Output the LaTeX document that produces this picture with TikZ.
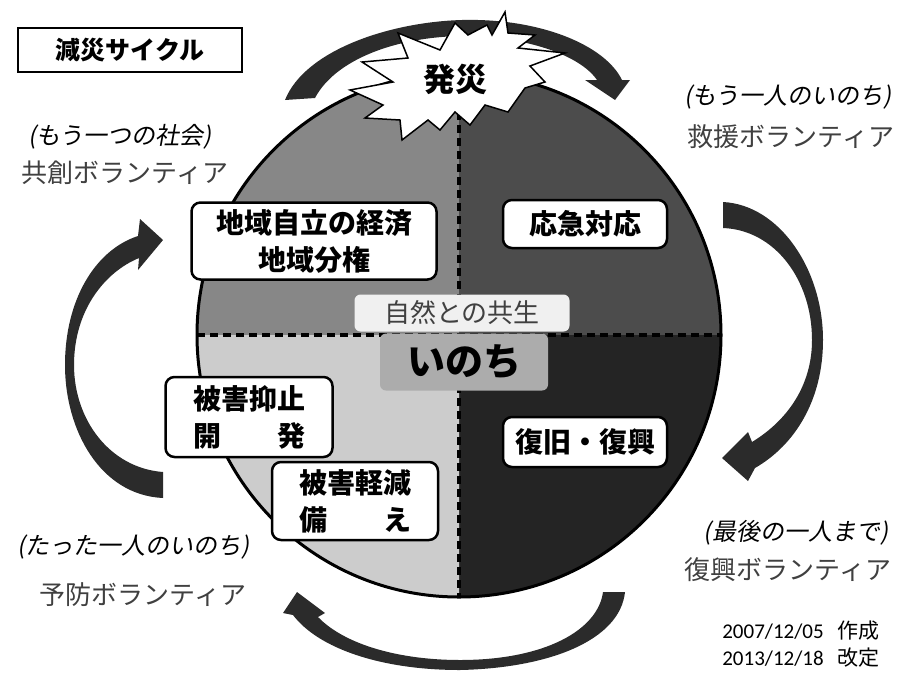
\documentclass[tikz,border=0pt]{standalone}
\usepackage{fontspec}
\setmainfont{Noto Sans CJK JP}
\newfontfamily\slantjp[FakeSlant=0.18]{Noto Sans CJK JP}
\newfontfamily\datefont{Carlito}
\definecolor{quadA}{gray}{0.53}
\definecolor{quadB}{gray}{0.30}
\definecolor{quadC}{gray}{0.14}
\definecolor{quadD}{gray}{0.80}
\definecolor{arrowgray}{gray}{0.17}
\definecolor{voltext}{gray}{0.25}
\tikzset{
	stage/.style={
		draw,
		line width = 2.5pt,
		rounded corners = 9pt,
		fill = white,
		align = center,
		inner sep = 0pt,
		font = \bfseries\fontsize{28}{37}\selectfont
	},
	volunteer/.style={
		text = voltext,
		inner sep = 0pt,
		font = \fontsize{26}{30}\selectfont
	},
	motto/.style={
		inner sep = 0pt,
		font = \slantjp\fontsize{24}{28}\selectfont
	},
	divider/.style={
		line width = 3.5pt,
		dash pattern = on 8pt off 5pt
	},
	cyclearrow/.style={
		fill = arrowgray
	},
}

\begin{document}
\begin{tikzpicture}[x=1pt, y=-1pt]
    \useasboundingbox (0,0) rectangle (902,673);
    \foreach \a/\c in {180/quadA, 270/quadB, 0/quadC, 90/quadD}{
      \fill[\c] (459,335) -- ++(\a:262) arc[start angle=\a, delta angle=90, radius=262] -- cycle;
    }
    \draw[divider] (459,73) -- (459,597);
    \draw[divider] (197,335) -- (722,335);
    \draw[line width=3pt] (459,335) circle[radius=262];

    \fill[cyclearrow] (285,100) .. controls (305,50) and (390,22) .. (462,20)
      .. controls (540,18) and (605,45) .. (622,80) -- (630,80) -- (615,100) -- (585,80) -- (597,80)
      .. controls (580,55) and (525,36) .. (462,36) .. controls (395,37) and (335,60) .. (315,98) -- cycle;
    \fill[cyclearrow] (723,202) .. controls (780,205) and (823,270) .. (823,340)
      .. controls (823,400) and (795,445) .. (755,468) -- (748,481) -- (722,458) -- (748,432) -- (752,442)
      .. controls (788,420) and (812,385) .. (812,340) .. controls (812,280) and (775,230) .. (723,228) -- cycle;
    \fill[cyclearrow] (625,592) .. controls (620,640) and (550,668) .. (460,670)
      .. controls (380,670) and (318,648) .. (293,615) -- (283,613) -- (297,592) -- (325,613) -- (318,617)
      .. controls (345,645) and (400,660) .. (460,660) .. controls (545,660) and (598,630) .. (603,592) -- cycle;
    \fill[cyclearrow] (163,498) .. controls (100,495) and (65,430) .. (65,365)
      .. controls (65,300) and (95,250) .. (138,236) -- (140,219) -- (163,240) -- (138,270) -- (139,258)
      .. controls (105,272) and (74,310) .. (74,365) .. controls (74,420) and (110,468) .. (163,472) -- cycle;

    \draw[line width=1.5pt, fill=white, line join=miter] (505,12) -- (508,33) -- (535,35) -- (518,48) -- (565,53)
      -- (530,66) -- (545,82) -- (525,88) -- (508,112) -- (485,105) -- (470,125) -- (455,112)
      -- (440,130) -- (428,120) -- (402,140) -- (400,120) -- (365,118) -- (383,105) -- (350,90)
      -- (393,82) -- (362,62) -- (408,58) -- (398,33) -- (440,50) -- (455,23) -- (468,35)
      -- (487,25) -- (492,35) -- cycle;
    \node[font=\bfseries\fontsize{32}{36}\selectfont] (hassai) at (455,79) {発災};

    \node[draw, line width=1.5pt, minimum width=224pt, minimum height=44pt,
      font=\bfseries\fontsize{25}{30}\selectfont] (title) at (130,50) {減災サイクル};

    \node[stage, minimum width=245pt, minimum height=77pt] (jiritsu) at (314,241) {地域自立の経済\\地域分権};
    \node[stage, minimum width=164pt, minimum height=48pt] (oukyu) at (585,224) {応急対応};
    \node[stage, minimum width=164pt, minimum height=50pt] (fukkyu) at (585,442) {復旧・復興};
    \node[stage, minimum width=167pt, minimum height=80pt] (yokushi) at (249,417) {被害抑止\\開　　発};
    \node[stage, minimum width=166pt, minimum height=78pt] (keigen) at (355,501) {被害軽減\\備　　え};

    \node[fill=gray!12, rounded corners=6pt, minimum width=215pt, minimum height=37pt, inner sep=0pt,
      text=voltext, font=\fontsize{26}{30}\selectfont] (kyosei) at (462,313) {自然との共生};
    \node[fill=gray!65, rounded corners=6pt, minimum width=168pt, minimum height=57pt, inner sep=0pt,
      font=\bfseries\fontsize{38}{42}\selectfont] (inochi) at (464,362) {いのち};

    \node[motto] (kyososub) at (120,137) {(もう一つの社会)};
    \node[volunteer] (kyoso) at (125,173) {共創ボランティア};
    \node[motto] (kyuensub) at (788,97) {(もう一人のいのち)};
    \node[volunteer] (kyuen) at (791,137) {救援ボランティア};
    \node[motto] (yobousub) at (134,547) {(たった一人のいのち)};
    \node[volunteer] (yobou) at (143,595) {予防ボランティア};
    \node[motto] (fukkousub) at (796,533) {(最後の一人まで)};
    \node[volunteer] (fukkou) at (788,570) {復興ボランティア};

    \node[inner sep=0pt, font=\fontsize{21}{25}\selectfont] (made) at (801,631) {{\datefont 2007/12/05}\hspace{14pt}作成};
    \node[inner sep=0pt, font=\fontsize{21}{25}\selectfont] (revised) at (801,658) {{\datefont 2013/12/18}\hspace{14pt}改定};
\end{tikzpicture}
\end{document}
